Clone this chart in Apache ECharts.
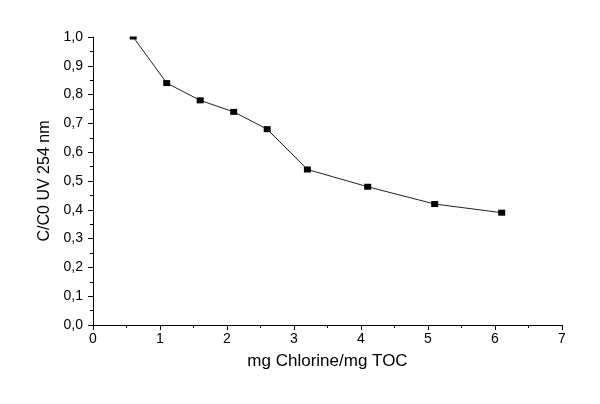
<!DOCTYPE html>
<html>
<head>
<meta charset="utf-8">
<script src="https://cdn.jsdelivr.net/npm/echarts@6/dist/echarts.min.js"></script>
<style>
  html, body { margin: 0; padding: 0; background: #fff; }
  #chart { width: 600px; height: 404px; }
</style>
</head>
<body>
<div id="chart"></div>
<script>
// mg Chlorine / mg TOC
const chlorineDose = [0.6, 1.1, 1.6, 2.1, 2.6, 3.2, 4.1, 5.1, 6.1]
// C/C0 at UV 254 nm
const uvRatio = [1.0, 0.84, 0.78, 0.74, 0.68, 0.54, 0.48, 0.42, 0.39]

const chart = echarts.init(document.getElementById('chart'))

const font = 'Liberation Sans, Arial'
const axisFont = { color: '#000', fontFamily: font, fontSize: 14 }
const comma = (v) => v.toFixed(1).replace('.', ',')

const option = {
  animation: false,
  backgroundColor: '#fff',
  grid: { left: 93, right: 38, top: 37, bottom: 79 },
  xAxis: {
    type: 'value',
    min: 0,
    max: 7,
    interval: 1,
    name: 'mg Chlorine/mg TOC',
    nameLocation: 'middle',
    nameGap: 28,
    nameTextStyle: { color: '#000', fontFamily: font, fontSize: 17 },
    axisLine: { onZero: false, lineStyle: { color: '#000', width: 1 } },
    axisTick: { inside: false, length: 5, lineStyle: { color: '#000' } },
    minorTick: { show: true, splitNumber: 2, length: 3, lineStyle: { color: '#000' } },
    axisLabel: { ...axisFont, margin: 7, formatter: (v) => String(v) },
    splitLine: { show: false },
  },
  yAxis: {
    type: 'value',
    min: 0,
    max: 1,
    interval: 0.1,
    name: 'C/C0 UV 254 nm',
    nameLocation: 'middle',
    nameGap: 35,
    nameTextStyle: { color: '#000', fontFamily: font, fontSize: 16 },
    axisLine: { show: true, onZero: false, lineStyle: { color: '#000', width: 1 } },
    axisTick: { show: true, inside: false, length: 5, lineStyle: { color: '#000' } },
    minorTick: { show: true, splitNumber: 2, length: 3, lineStyle: { color: '#000' } },
    axisLabel: { ...axisFont, margin: 10, formatter: comma },
    splitLine: { show: false },
  },
  series: [
    {
      type: 'line',
      data: chlorineDose.map((x, i) => [x, uvRatio[i]]),
      symbol: 'rect',
      // first marker sits on the top edge and is cut in half there
      symbolSize: (val, p) => (p.dataIndex === 0 ? [7, 3] : [7, 6]),
      symbolOffset: (val, p) => (p.dataIndex === 0 ? [0, 1] : [0, 0]),
      showAllSymbol: true,
      itemStyle: { color: '#000' },
      lineStyle: { color: '#222', width: 1 },
      clip: false,
    },
  ],
}

chart.setOption(option)
</script>
</body>
</html>
